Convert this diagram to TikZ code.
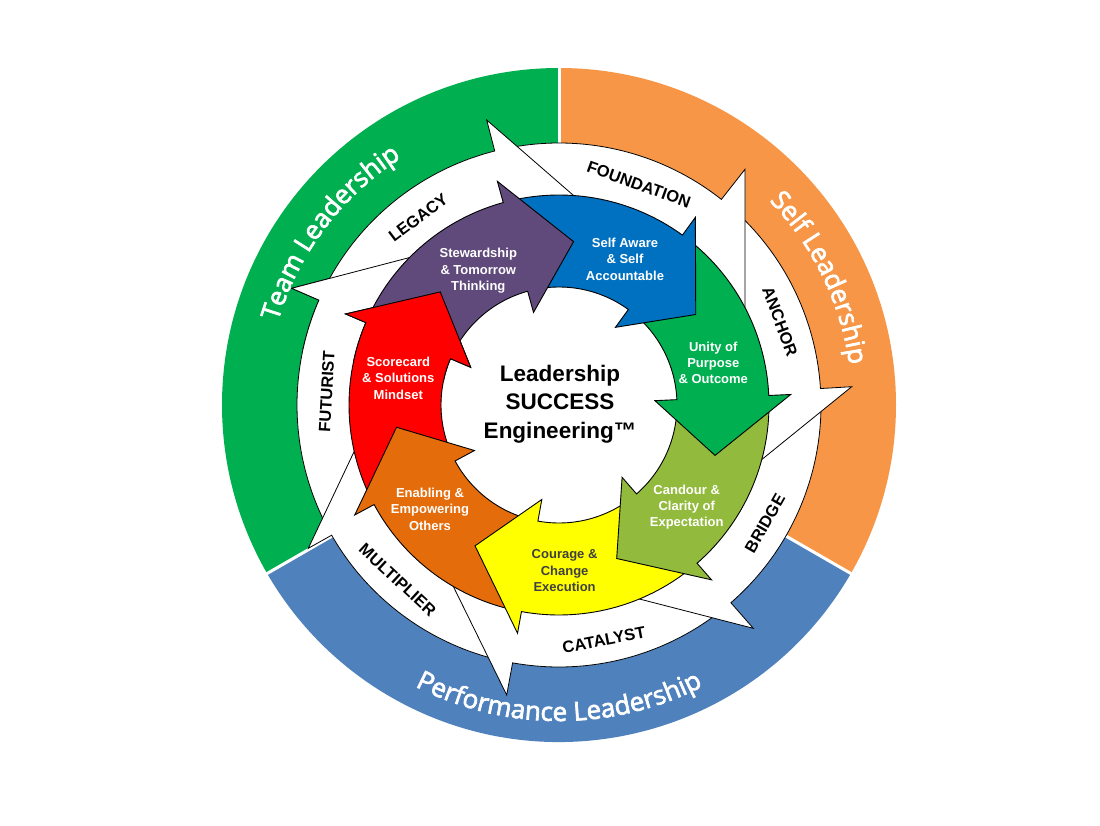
\documentclass[tikz,border=0pt]{standalone}
\usepackage{fontspec}
\setmainfont{Liberation Sans}
\newfontfamily\ringfont{Open Sans}[FakeBold=2.6]
\usepackage{xcolor}
\usepackage{tikz}
\usetikzlibrary{decorations.text}

\definecolor{teamgreen}{HTML}{00B050}
\definecolor{selforange}{HTML}{F79646}
\definecolor{perfblue}{HTML}{4F81BD}
\definecolor{petalpurple}{HTML}{604A7B}
\definecolor{petalblue}{HTML}{0070C0}
\definecolor{petalgreen}{HTML}{00B050}
\definecolor{petallime}{HTML}{92BA3C}
\definecolor{petalyellow}{HTML}{FFFF00}
\definecolor{petalorange}{HTML}{E46C0A}
\definecolor{petalred}{HTML}{FF0000}
\definecolor{couragegrey}{HTML}{404040}

\begin{document}
\begin{tikzpicture}[
  x=1pt, y=1pt,
  band/.style={draw=black, line width=0.8pt, fill=white},
  petal/.style={draw=black, line width=0.9pt},
  bandlabel/.style={font=\bfseries\fontsize{16.5}{16.5}\selectfont, inner sep=0pt},
  petallabel/.style={font=\bfseries\fontsize{13}{16.3}\selectfont, text=white, align=center, inner sep=0pt},
  hublabel/.style={font=\bfseries\fontsize{22.5}{28.5}\selectfont, align=center, inner sep=0pt}
]
  \fill[white] (-559,-420) rectangle (541,405);
  \useasboundingbox (-559,-420) rectangle (541,405);

  \fill[teamgreen] (90:337) arc[start angle=90, end angle=210, radius=337pt] -- (210:262) arc[start angle=210, end angle=90, radius=262pt] -- cycle;
  \fill[selforange] (90:337) arc[start angle=90, end angle=-30, radius=337pt] -- (-30:262) arc[start angle=-30, end angle=90, radius=262pt] -- cycle;
  \fill[perfblue] (-30:337) arc[start angle=-30, end angle=-150, radius=337pt] -- (-150:262) arc[start angle=-150, end angle=-30, radius=262pt] -- cycle;
  \draw[white, line width=3pt] (90:255) -- (90:345);
  \draw[white, line width=3pt] (210:255) -- (210:345);
  \draw[white, line width=3pt] (330:255) -- (330:345);

  \draw[band] (-152.7:195) -- (-152.7:262) arc[start angle=-152.7, end angle=-203.6, radius=262pt] -- (-267.3,116.7) -- (-152.3,146.7) -- (-129.3,152.7) -- cycle;
  \draw[band] (-102.7:195) -- (-102.7:262) arc[start angle=-102.7, end angle=-150.2, radius=262pt] -- (-250.7,-143.3) -- (-207.3,-51.7) -- (-198.6,-33.4) -- cycle;
  \draw[band] (-51.5:195) -- (-51.5:262) arc[start angle=-51.5, end angle=-100.2, radius=262pt] -- (-52.3,-290) -- (-102.3,-188.3) -- (-112.3,-168) -- cycle;
  \draw[band] (1.1:195) -- (1.1:262) arc[start angle=1.1, end angle=-49, radius=262pt] -- (194.3,-223.3) -- (84.3,-195) -- (62.3,-189.3) -- cycle;
  \draw[band] (49.2:195) -- (49.2:262) arc[start angle=49.2, end angle=3.6, radius=262pt] -- (292.7,18.3) -- (204.3,-53.3) -- (186.6,-67.6) -- cycle;
  \draw[band] (101.7:195) -- (101.7:262) arc[start angle=101.7, end angle=51.7, radius=262pt] -- (186,235.7) -- (186,98.3) -- (186,70.8) -- cycle;
  \draw[band] (153.9:195) -- (153.9:262) arc[start angle=153.9, end angle=104.2, radius=262pt] -- (-72.3,285) -- (14,210) -- (31.3,195) -- cycle;
  \begin{scope}
    \clip (0,0) -- (168:330) arc[start angle=168, end angle=125, radius=330pt] -- cycle;
    \draw[band] (-152.7:195) -- (-152.7:262) arc[start angle=-152.7, end angle=-203.6, radius=262pt] -- (-267.3,116.7) -- (-152.3,146.7) -- (-129.3,152.7) -- cycle;
  \end{scope}

  \draw[petal, fill=petalred] (206.3:210) arc[start angle=206.3, end angle=156.9, radius=210pt] -- (156.9:232) -- (136.4:164) -- (156.9:96) -- (156.9:118) arc[start angle=156.9, end angle=206.3, radius=118pt] -- cycle;
  \draw[petal, fill=petalorange] (257.7:210) arc[start angle=257.7, end angle=208.3, radius=210pt] -- (208.3:232) -- (187.8:164) -- (208.3:96) -- (208.3:118) arc[start angle=208.3, end angle=257.7, radius=118pt] -- cycle;
  \draw[petal, fill=petalyellow] (-50.9:210) arc[start angle=-50.9, end angle=-100.3, radius=210pt] -- (-100.3:232) -- (-120.8:164) -- (-100.3:96) -- (-100.3:118) arc[start angle=-100.3, end angle=-50.9, radius=118pt] -- cycle;
  \draw[petal, fill=petallime] (0.5:210) arc[start angle=0.5, end angle=-48.9, radius=210pt] -- (-48.9:232) -- (-69.4:164) -- (-48.9:96) -- (-48.9:118) arc[start angle=-48.9, end angle=0.5, radius=118pt] -- cycle;
  \draw[petal, fill=petalgreen] (52:210) arc[start angle=52, end angle=2.6, radius=210pt] -- (2.6:232) -- (-17.9:164) -- (2.6:96) -- (2.6:118) arc[start angle=2.6, end angle=52, radius=118pt] -- cycle;
  \draw[petal, fill=petalblue] (103.4:210) arc[start angle=103.4, end angle=54, radius=210pt] -- (54:232) -- (33.5:164) -- (54:96) -- (54:118) arc[start angle=54, end angle=103.4, radius=118pt] -- cycle;
  \draw[petal, fill=petalpurple] (154.8:210) arc[start angle=154.8, end angle=105.4, radius=210pt] -- (105.4:232) -- (84.9:164) -- (105.4:96) -- (105.4:118) arc[start angle=105.4, end angle=154.8, radius=118pt] -- cycle;
  \begin{scope}
    \clip (0,0) -- (168:245) arc[start angle=168, end angle=128, radius=245pt] -- cycle;
    \draw[petal, fill=petalred] (206.3:210) arc[start angle=206.3, end angle=156.9, radius=210pt] -- (156.9:232) -- (136.4:164) -- (156.9:96) -- (156.9:118) arc[start angle=156.9, end angle=206.3, radius=118pt] -- cycle;
  \end{scope}

  \path[decorate, decoration={text along path, text align=center, text color=white,
    text={|\ringfont\fontsize{26}{26}\selectfont|Team Leadership}}]
    (183:293) arc[start angle=183, end angle=103, radius=293pt];
  \path[decorate, decoration={text along path, text align=center, text color=white,
    text={|\ringfont\fontsize{26}{26}\selectfont|Self Leadership}}]
    (66:293) arc[start angle=66, end angle=-14, radius=293pt];
  \path[decorate, decoration={text along path, text align=center, text color=white,
    text={|\ringfont\fontsize{26}{26}\selectfont|Performance Leadership}}]
    (-130:316) arc[start angle=-130, end angle=-50, radius=316pt];

  \node[bandlabel, rotate=36.9] (legacy) at (126.9:234.4) {LEGACY};
  \node[bandlabel, rotate=-19.9] (foundation) at (70.1:234.6) {FOUNDATION};
  \node[bandlabel, rotate=-69.3] (anchor) at (20.7:236.2) {ANCHOR};
  \node[bandlabel, rotate=60.1] (bridge) at (-29.9:237.5) {BRIDGE};
  \node[bandlabel, rotate=10.8] (catalyst) at (-79.2:239.3) {CATALYST};
  \node[bandlabel, rotate=-42.7] (multiplier) at (-132.7:238.1) {MULTIPLIER};
  \node[bandlabel, rotate=86.7] (futurist) at (176.7:232.7) {FUTURIST};

  \node[petallabel] (stewardship) at (-80.7,134.3) {Stewardship\\\& Tomorrow\\Thinking};
  \node[petallabel] (selfaware) at (66,145.7) {Self Aware\\\& Self\\Accountable};
  \node[petallabel] (unity) at (154.3,42.3) {Unity of\\Purpose\\\& Outcome};
  \node[petallabel] (candour) at (127.7,-102.3) {Candour \&\\Clarity of\\Expectation};
  \node[petallabel, text=couragegrey] (courage) at (5.6,-165.7) {Courage \&\\Change\\Execution};
  \node[petallabel] (enabling) at (-129,-104.3) {Enabling \&\\Empowering\\Others};
  \node[petallabel] (scorecard) at (-160.7,26.7) {Scorecard\\\& Solutions\\Mindset};

  \node[hublabel] (hub) at (1,1) {Leadership\\SUCCESS\\Engineering™};
\end{tikzpicture}
\end{document}
